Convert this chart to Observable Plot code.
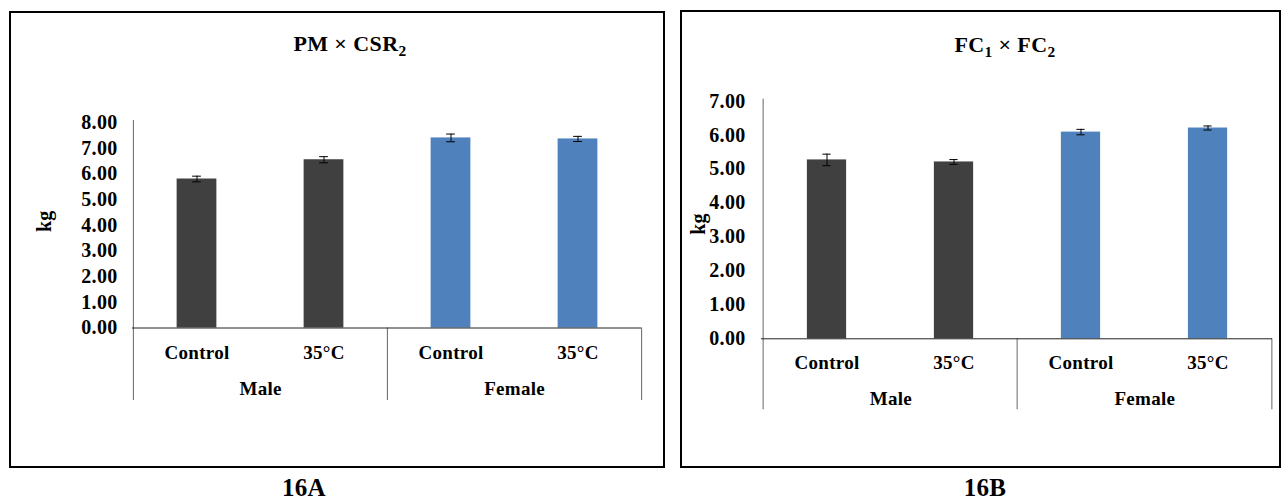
<!DOCTYPE html>
<html>
<head>
<meta charset="utf-8">
<script src="https://cdn.jsdelivr.net/npm/d3@7"></script>
<script src="https://cdn.jsdelivr.net/npm/@observablehq/plot@0.6"></script>
<style>
  body { margin: 0; background: #fff; }
  #root { position: relative; width: 1282px; height: 500px; overflow: hidden;
          font-family: "Liberation Serif", "Times New Roman", serif; font-weight: bold; color: #000; }
  .box { position: absolute; border: 2px solid #000; box-sizing: border-box; }
  .title { position: absolute; font-size: 22px; letter-spacing: 0.4px; transform: translate(-50%, -50%); white-space: nowrap; }
  .title sub { font-size: 0.7em; vertical-align: -0.3em; line-height: 0; }
  .fig { position: absolute; font-size: 25px; letter-spacing: 0.3px; transform: translate(-50%, -50%); white-space: nowrap; }
  .chart { position: absolute; top: 0; }
</style>
</head>
<body>
<div id="root">
  <div class="box" style="left:9px;top:11px;width:656px;height:457px;"></div>
  <div class="box" style="left:680px;top:10px;width:601px;height:458px;"></div>
  <div class="title" style="left:350px;top:44px;">PM × CSR<sub>2</sub></div>
  <div class="title" style="left:1005px;top:45px;">FC<sub>1</sub> × FC<sub>2</sub></div>
  <div class="fig" style="left:304px;top:488px;">16A</div>
  <div class="fig" style="left:985px;top:488px;">16B</div>
  <div class="chart" id="chartA" style="left:0px;width:670px;"></div>
  <div class="chart" id="chartB" style="left:670px;width:612px;"></div>
</div>
<script>
// ---- data ----
const sexes = ["Male", "Male", "Female", "Female"];
const treatments = ["Control", "35°C", "Control", "35°C"];
const groups = ["Male", "Female"];
const groupColors = ["#404040", "#4F81BD"];

// 16A: PM × CSR2
const pmValues = [5.80, 6.55, 7.40, 7.36];
const pmErrors = [0.11, 0.12, 0.15, 0.10];
const pmTicks = [0, 1, 2, 3, 4, 5, 6, 7, 8];

// 16B: FC1 × FC2
const fcValues = [5.27, 5.21, 6.09, 6.21];
const fcErrors = [0.17, 0.07, 0.08, 0.06];
const fcTicks = [0, 1, 2, 3, 4, 5, 6, 7];

const yLabel = "kg";

function panel(values, errors, ticks, cfg) {
  const data = values.map((v, i) => ({
    key: sexes[i] + "|" + treatments[i],
    sex: sexes[i], treatment: treatments[i], value: v, err: errors[i]
  }));
  const keys = data.map(d => d.key);
  const n = keys.length;
  const bw = (cfg.width - cfg.marginLeft - cfg.marginRight) / n;
  const yMax = ticks[ticks.length - 1];
  const barW = 40, capW = 9;
  const firstOfGroup = data.filter((d, i) => i === 0 || data[i - 1].sex !== d.sex);
  const font = {fontFamily: "Liberation Serif", fontWeight: "bold", fontSize: 19};
  return Plot.plot({
    width: cfg.width, height: cfg.height,
    marginLeft: cfg.marginLeft, marginRight: cfg.marginRight,
    marginTop: cfg.marginTop, marginBottom: cfg.marginBottom,
    style: {background: "transparent", fontFamily: "Liberation Serif", fontSize: "20px",
            fontWeight: "bold", letterSpacing: "0.3px", color: "#000", overflow: "visible"},
    x: {type: "band", domain: keys, padding: 0, axis: null},
    y: {domain: [0, yMax], ticks: ticks, tickFormat: d3.format(".2f"), tickSize: 0,
        tickPadding: cfg.tickPadding, label: null},
    color: {domain: groups, range: groupColors},
    marks: [
      Plot.barY(data, {x: "key", y: "value", fill: "sex", insetLeft: (bw - barW) / 2, insetRight: (bw - barW) / 2}),
      Plot.ruleX(data, {x: "key", y1: d => d.value - d.err, y2: d => d.value + d.err, stroke: "#000", strokeWidth: 1}),
      Plot.tickY(data, {x: "key", y: d => d.value - d.err, stroke: "#000", strokeWidth: 1, insetLeft: (bw - capW) / 2, insetRight: (bw - capW) / 2}),
      Plot.tickY(data, {x: "key", y: d => d.value + d.err, stroke: "#000", strokeWidth: 1, insetLeft: (bw - capW) / 2, insetRight: (bw - capW) / 2}),
      // y axis line
      Plot.ruleX([keys[0]], {x: d => d, y1: yMax, y2: 0, dx: -bw / 2, insetTop: -2, insetBottom: -cfg.drop, stroke: "#666"}),
      // group separators
      Plot.ruleX(firstOfGroup.slice(1), {x: "key", y1: 0, y2: 0, dx: -bw / 2, insetBottom: -cfg.drop, stroke: "#666"}),
      Plot.ruleX([keys[n - 1]], {x: d => d, y1: 0, y2: 0, dx: bw / 2, insetBottom: -cfg.drop, stroke: "#666"}),
      // baseline
      Plot.ruleY([0], {stroke: "#222"}),
      // category labels
      Plot.text(data, {x: "key", y: 0, text: "treatment", dy: cfg.catDy, lineAnchor: "middle", fill: "#000", ...font}),
      // group labels
      Plot.text(firstOfGroup, {x: "key", y: 0, text: "sex", dx: bw / 2, dy: cfg.groupDy, lineAnchor: "middle", fill: "#000", ...font}),
      // y label
      Plot.text([yLabel], {text: d => d, frameAnchor: "left", rotate: -90, textAnchor: "middle", lineAnchor: "middle",
                           dx: cfg.kgDx, dy: cfg.kgDy, fill: "#000", ...font, fontSize: 20})
    ]
  });
}

document.getElementById("chartA").append(panel(pmValues, pmErrors, pmTicks, {
  width: 670, height: 470, marginLeft: 132, marginRight: 29, marginTop: 122, marginBottom: 142.5,
  tickPadding: 15, drop: 72.5, catDy: 25, groupDy: 61, kgDx: -88, kgDy: -4
}));
document.getElementById("chartB").append(panel(fcValues, fcErrors, fcTicks, {
  width: 612, height: 470, marginLeft: 91, marginRight: 10, marginTop: 100.7, marginBottom: 131.7,
  tickPadding: 16, drop: 71, catDy: 24, groupDy: 60, kgDx: -63, kgDy: 4
}));
</script>
</body>
</html>
